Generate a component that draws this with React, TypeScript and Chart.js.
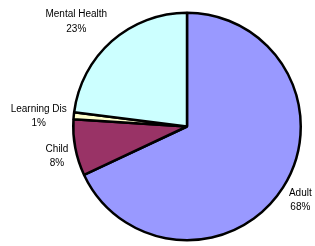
import React, { useEffect, useRef } from "react";
import { Chart, registerables } from "chart.js";

Chart.register(...registerables);

const categories = ["Adult", "Child", "Learning Dis", "Mental Health"];
const values = [68, 8, 1, 23];
const colors = ["#9999FF", "#993366", "#FFFFCC", "#CCFFFF"];

const labelPlugin = {
  id: "outsideLabels",
  afterDraw(chart: any) {
    const ctx = chart.ctx;
    const meta = chart.getDatasetMeta(0);
    const data = chart.data.datasets[0].data as number[];
    const total = data.reduce((a, b) => a + b, 0);
    ctx.save();
    ctx.font = '10px "Liberation Sans", Arial, sans-serif';
    ctx.fillStyle = "#000";
    ctx.textAlign = "center";
    ctx.textBaseline = "middle";
    const lineH = 14.5;
    meta.data.forEach((arc: any, i: number) => {
      const mid = (arc.startAngle + arc.endAngle) / 2;
      const cos = Math.cos(mid);
      const sin = Math.sin(mid);
      const r = arc.outerRadius + 7;
      const ax = arc.x + r * cos;
      const ay = arc.y + r * sin;
      const lines = [String(chart.data.labels[i]), Math.round((data[i] / total) * 100) + "%"];
      const w = Math.max(...lines.map((l) => ctx.measureText(l).width));
      const h = lineH * lines.length;
      let cx: number;
      if (Math.abs(cos) < 0.1) cx = ax;
      else cx = cos > 0 ? ax + w / 2 : ax - w / 2;
      const cy = ay + sin * h * 0.75 - 3 * cos;
      lines.forEach((l, j) => {
        ctx.fillText(l, cx, cy - h / 2 + lineH * (j + 0.5));
      });
    });
    ctx.restore();
  },
};

export default function App() {
  const ref = useRef<HTMLCanvasElement>(null);
  useEffect(() => {
    if (!ref.current) return;
    const chart = new Chart(ref.current, {
      type: "pie",
      data: {
        labels: categories,
        datasets: [
          {
            data: values,
            backgroundColor: colors,
            borderColor: "#000",
            borderWidth: 2.5,
          },
        ],
      },
      options: {
        responsive: false,
        animation: false,
        layout: { padding: { left: 72, right: 13, top: 11, bottom: 4 } },
        plugins: {
          legend: { display: false },
          tooltip: { enabled: false },
        },
      },
      plugins: [labelPlugin],
    });
    return () => chart.destroy();
  }, []);
  return (
    <div style={{ position: "absolute", left: 0, top: 0, width: 315, height: 246, background: "#fff" }}>
      <canvas ref={ref} width={315} height={246} style={{ display: "block" }} />
    </div>
  );
}
